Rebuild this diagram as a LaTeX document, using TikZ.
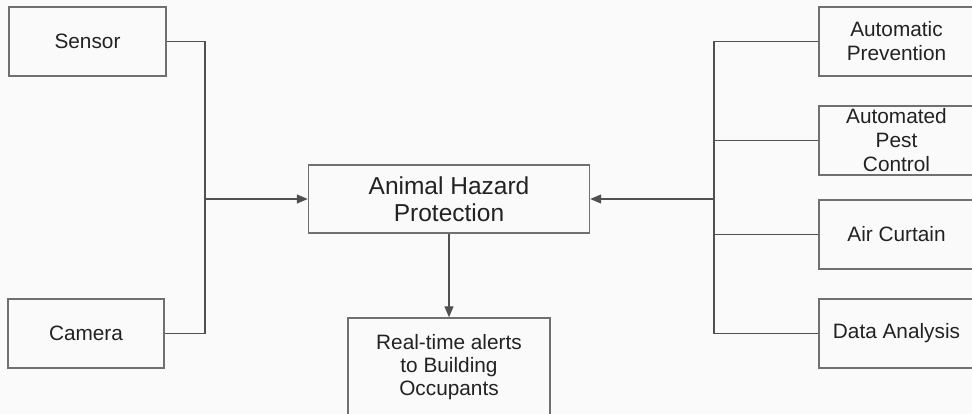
\documentclass[tikz,border=0pt]{standalone}
\usepackage{fontspec}
\setmainfont{Liberation Sans}
\usetikzlibrary{arrows.meta}
\definecolor{boxline}{HTML}{707070}
\definecolor{wire}{HTML}{505050}
\definecolor{ink}{HTML}{222222}
\begin{document}
\begin{tikzpicture}[x=1pt,y=-1pt,
  block/.style={draw=boxline,line width=1.4pt,rectangle,inner sep=0pt,
    text=ink,align=center,font=\fontsize{20.8}{24}\selectfont},
  wireline/.style={draw=wire,line width=1.3pt},
  tip/.style={-{Triangle[length=11pt,width=9pt]}}]
  \useasboundingbox (0,0) rectangle (972,414);
  \fill[white!98!black] (0,0) rectangle (972,414);
  \clip (0,0) rectangle (972,414);

  % inputs on the left
  \node[block,minimum width=157pt,minimum height=69pt] (sensor) at (87.5,41.5) {Sensor};
  \node[block,minimum width=156pt,minimum height=69pt] (camera) at (86,333.5) {Camera};

  % central block and its output
  \node[block,minimum width=281pt,minimum height=68pt,
        font=\fontsize{24.5}{26.7}\selectfont] (hazard) at (449,199) {Animal Hazard\\Protection};
  \node[block,minimum width=202pt,minimum height=98pt,
        font=\fontsize{20.8}{23}\selectfont] (alerts) at (449,367) {Real-time alerts\\to Building\\Occupants};

  % measures on the right
  \node[block,minimum width=155pt,minimum height=69pt] (prevention) at (896.5,41.5) {Automatic\\Prevention};
  \node[block,minimum width=155pt,minimum height=69pt] (pest) at (896.5,140.5) {Automated\\Pest\\Control};
  \node[block,minimum width=155pt,minimum height=69pt] (curtain) at (896.5,234.5) {Air Curtain};
  \node[block,minimum width=155pt,minimum height=69pt] (analysis) at (896.5,333.5) {Data Analysis};

  % bus points
  \coordinate (lbus) at (205,199);
  \coordinate (rbus) at (714,199);

  % left bus
  \draw[wireline] (sensor.east) -| (lbus) |- (camera.east);
  \draw[wireline,tip] (lbus) -- (hazard.west);

  % right bus
  \draw[wireline] (prevention.west) -| (rbus) |- (analysis.west);
  \draw[wireline] (pest.west) -- (pest.west -| rbus);
  \draw[wireline] (curtain.west) -- (curtain.west -| rbus);
  \draw[wireline,tip] (rbus) -- (hazard.east);

  % output
  \draw[wireline,tip] (hazard.south) -- (alerts.north);
\end{tikzpicture}
\end{document}
